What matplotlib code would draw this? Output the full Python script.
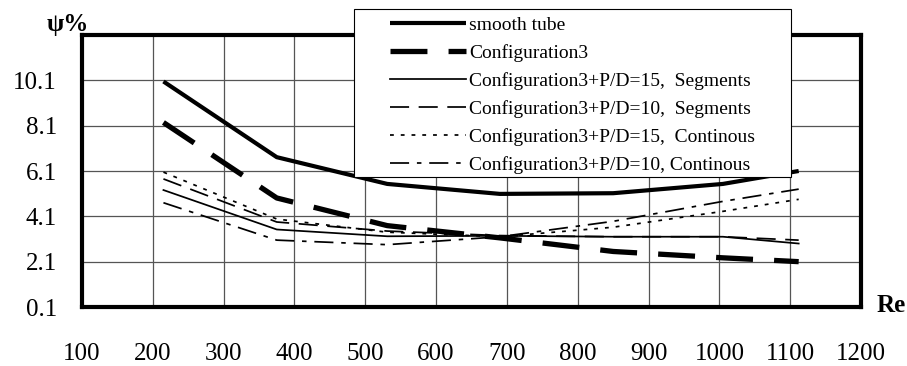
import matplotlib
matplotlib.use("Agg")
import matplotlib.pyplot as plt
from matplotlib.patches import Rectangle

plt.rcParams["font.family"] = ["Liberation Serif", "DejaVu Serif"]

re_values = [215, 375, 531, 690, 850, 1005, 1112]

smooth_tube = [10.05, 6.71, 5.53, 5.09, 5.12, 5.53, 6.1]
config3 = [8.24, 4.91, 3.69, 3.15, 2.55, 2.27, 2.1]
pd15_segments = [5.26, 3.52, 3.22, 3.24, 3.2, 3.2, 2.9]
pd10_segments = [5.75, 3.85, 3.45, 3.25, 3.2, 3.2, 3.05]
pd15_continous = [6.05, 3.98, 3.4, 3.2, 3.62, 4.32, 4.85]
pd10_continous = [4.7, 3.05, 2.85, 3.2, 3.88, 4.76, 5.3]

labels = [
    "smooth tube",
    "Configuration3",
    "Configuration3+P/D=15,  Segments",
    "Configuration3+P/D=10,  Segments",
    "Configuration3+P/D=15,  Continous",
    "Configuration3+P/D=10, Continous",
]

x_ticks = [100, 200, 300, 400, 500, 600, 700, 800, 900, 1000, 1100, 1200]
y_ticks = [0.1, 2.1, 4.1, 6.1, 8.1, 10.1, 12.1]

W, H = 907, 366
fig = plt.figure(figsize=(W / 100, H / 100), dpi=100)
ax = fig.add_axes([82 / W, 59 / H, 779 / W, 272 / H])

thin = 1.25
ax.plot(re_values, smooth_tube, color="black", lw=3.0, solid_capstyle="butt", label=labels[0])
ax.plot(re_values, config3, color="black", lw=3.8, dashes=(7, 4), label=labels[1])
ax.plot(re_values, pd15_segments, color="black", lw=thin, label=labels[2])
ax.plot(re_values, pd10_segments, color="black", lw=thin, dashes=(11, 5.5), label=labels[3])
ax.plot(re_values, pd15_continous, color="black", lw=thin, dashes=(2.2, 4), label=labels[4])
ax.plot(re_values, pd10_continous, color="black", lw=thin, dashes=(11, 4.5, 2.6, 4.5), label=labels[5])

ax.set_xlim(100, 1200)
ax.set_ylim(0.1, 12.1)
ax.set_xticks(x_ticks)
ax.set_xticklabels([str(v) for v in x_ticks])
ax.set_yticks(y_ticks)
ax.set_yticklabels([f"{v:.1f}" for v in y_ticks[:-1]] + [""])
ax.tick_params(axis="both", length=0, labelsize=18)
ax.tick_params(axis="y", pad=18)
ax.tick_params(axis="x", pad=26)
ax.grid(True, color="#555555", lw=0.9)
ax.set_axisbelow(True)
for spine in ax.spines.values():
    spine.set_linewidth(3.0)
    spine.set_color("black")

fig.text(68 / W, 1 - 25 / H, "ψ%", fontsize=18, fontweight="bold",
         ha="center", va="center")
fig.text(891 / W, 1 - 305 / H, "Re", fontsize=18, fontweight="bold",
         ha="center", va="center")

# legend box drawn separately so it can have wide side margins
box = Rectangle((354 / W, 1 - 177 / H), 437 / W, 168 / H,
                transform=fig.transFigure, facecolor="white",
                edgecolor="black", lw=0.8, zorder=4)
fig.patches.append(box)

leg = fig.legend(loc="upper left", bbox_to_anchor=(390 / W, 1 - 16.5 / H),
                 fontsize=14, frameon=False, handlelength=3.9,
                 handletextpad=0.15, labelspacing=0.52, borderpad=0,
                 borderaxespad=0)
leg.set_zorder(5)

fig.savefig("out.png", dpi=100)
